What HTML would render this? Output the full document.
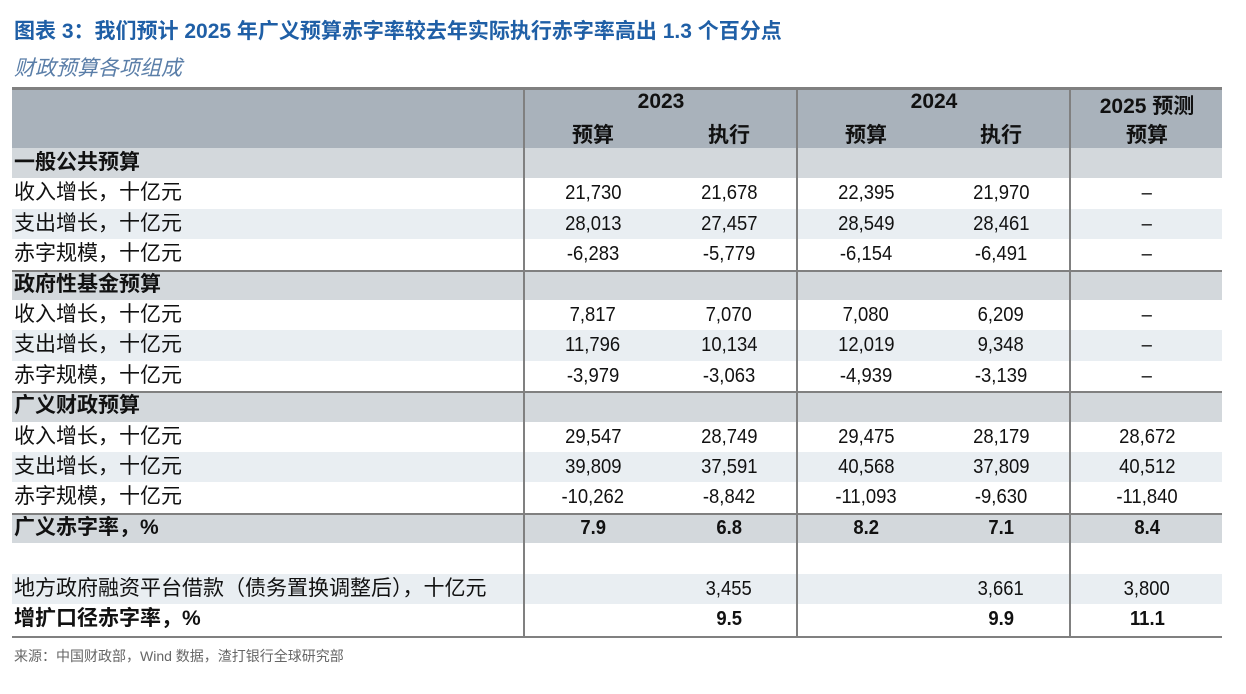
<!DOCTYPE html>
<html><head><meta charset="utf-8">
<style>
body{margin:0;width:1246px;height:694px;background:#fff;position:relative;overflow:hidden;font-family:"Liberation Sans","Noto Sans CJK SC",sans-serif;}
.abs{position:absolute;}
#title{left:14px;top:15px;font-size:21px;font-weight:bold;color:#1f5fa6;white-space:nowrap;}
#sub{left:14px;top:52px;font-size:21px;font-style:italic;color:#5a7ea8;white-space:nowrap;}
#foot{left:14px;top:646px;font-size:14px;color:#666;white-space:nowrap;}
.row{position:absolute;left:12px;width:1210px;height:30.4px;}
.cell{position:absolute;top:0;height:100%;line-height:30px;font-size:21px;color:#111;white-space:nowrap;}
.num{text-align:center;font-size:20.5px;}
.num span{display:inline-block;transform:scaleX(0.9);}
.b{font-weight:bold;}
.hline{position:absolute;left:12px;width:1210px;height:2px;background:#808080;}
.vline{position:absolute;width:2px;background:#808080;top:88px;height:548px;}
</style></head><body>
<div id="title" class="abs">图表 3：我们预计 2025 年广义预算赤字率较去年实际执行赤字率高出 1.3 个百分点</div>
<div id="sub" class="abs">财政预算各项组成</div>
<div id="tbl"></div>
<div id="foot" class="abs">来源：中国财政部，Wind 数据，渣打银行全球研究部</div>
<script>
const colCenters=[593,729,866,1001,1147];
const rowLabels=["一般公共预算","收入增长，十亿元","支出增长，十亿元","赤字规模，十亿元","政府性基金预算","收入增长，十亿元","支出增长，十亿元","赤字规模，十亿元","广义财政预算","收入增长，十亿元","支出增长，十亿元","赤字规模，十亿元","广义赤字率，%","","地方政府融资平台借款（债务置换调整后），十亿元","增扩口径赤字率，%"];
const rowTypes=["sec","w","l","w","sec","w","l","w","sec","w","l","w","secb","w","l","wb"];
const values=[
["","","","",""],
["21,730","21,678","22,395","21,970","–"],
["28,013","27,457","28,549","28,461","–"],
["-6,283","-5,779","-6,154","-6,491","–"],
["","","","",""],
["7,817","7,070","7,080","6,209","–"],
["11,796","10,134","12,019","9,348","–"],
["-3,979","-3,063","-4,939","-3,139","–"],
["","","","",""],
["29,547","28,749","29,475","28,179","28,672"],
["39,809","37,591","40,568","37,809","40,512"],
["-10,262","-8,842","-11,093","-9,630","-11,840"],
["7.9","6.8","8.2","7.1","8.4"],
["","","","",""],
["","3,455","","3,661","3,800"],
["","9.5","","9.9","11.1"]];
const tbl=document.getElementById('tbl');
const H=30.4, top0=148;
const hdr=document.createElement('div');


hdr.className='abs';hdr.style.cssText='left:12px;top:88px;width:1210px;height:60px;background:#a9b2bb;';
tbl.appendChild(hdr);
const heads=[["2023",661,104],["2024",934,104],["2025 预测",1147,104],["预算",593,133],["执行",729,133],["预算",866,133],["执行",1001,133],["预算",1147,133]];
heads.forEach(h=>{const d=document.createElement('div');


d.className='abs b';d.style.cssText=`left:${h[1]-80}px;width:160px;text-align:center;top:${h[2]-14}px;font-size:21px;color:#111;`;d.textContent=h[0];tbl.appendChild(d);});
rowLabels.forEach((lab,i)=>{
 const t=rowTypes[i];const r=document.createElement('div');
 
 
 r.className='row';r.style.top=(top0+i*H)+'px';
 r.style.background=(t.startsWith('sec'))?'#d3d8dc':(t=='l'?'#e9eef2':'#fff');
 const bold=(t!='w'&&t!='l');
 const c=document.createElement('div');
 
 
 c.className='cell'+(bold?' b':'');c.style.left='2px';c.textContent=lab;r.appendChild(c);
 values[i].forEach((v,j)=>{const n=document.createElement('div');
  
  
  n.className='cell num'+(bold?' b':'');n.style.left=(colCenters[j]-12-70)+'px';n.style.width='140px';
  const s=document.createElement('span');s.textContent=v;n.appendChild(s);r.appendChild(n);});
 tbl.appendChild(r);
});
[87,270,391,513,636].forEach(y=>{const l=document.createElement('div');
 
 
 l.className='hline';l.style.top=y+'px';l.style.height=(y==87?'3px':'2px');tbl.appendChild(l);});
[523,796,1069].forEach(x=>{const l=document.createElement('div');
 
 
 l.className='vline';l.style.left=x+'px';tbl.appendChild(l);});
</script>
</body></html>
